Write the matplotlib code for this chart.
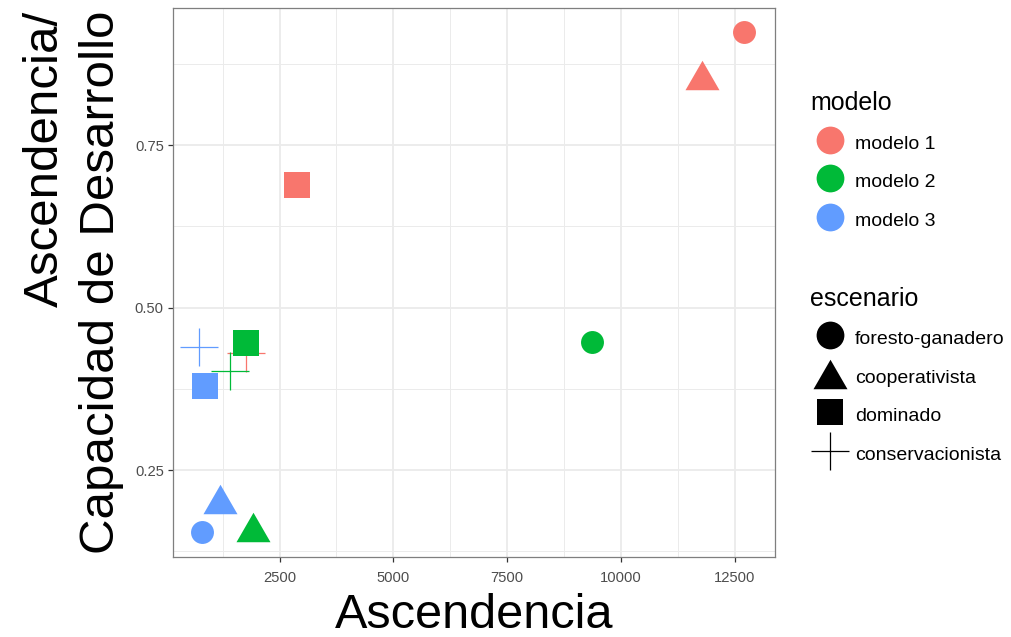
import matplotlib
matplotlib.use("Agg")
import matplotlib.pyplot as plt
from matplotlib.lines import Line2D
from matplotlib.path import Path

plt.rcParams['font.family'] = ['Liberation Sans', 'DejaVu Sans']

# datos
modelos = ['modelo 1', 'modelo 2', 'modelo 3']
escenarios = ['foresto-ganadero', 'cooperativista', 'dominado', 'conservacionista']
colores = {'modelo 1': '#F8766D', 'modelo 2': '#00BA38', 'modelo 3': '#619CFF'}

# ascendencia por modelo (orden de escenarios)
asc_m1 = [12705, 11776, 2875, 1760]
asc_m2 = [9358, 1908, 1760, 1409]
asc_m3 = [793, 1189, 859, 727]
# ascendencia / capacidad de desarrollo
ratio_m1 = [0.924, 0.858, 0.689, 0.430]
ratio_m2 = [0.447, 0.163, 0.445, 0.402]
ratio_m3 = [0.154, 0.205, 0.379, 0.439]

asc = {'modelo 1': asc_m1, 'modelo 2': asc_m2, 'modelo 3': asc_m3}
ratio = {'modelo 1': ratio_m1, 'modelo 2': ratio_m2, 'modelo 3': ratio_m3}

tri = Path([(-1, -0.866), (1, -0.866), (0, 0.866), (-1, -0.866)],
           [Path.MOVETO, Path.LINETO, Path.LINETO, Path.CLOSEPOLY])
formas = {'foresto-ganadero': ('o', 16.5), 'cooperativista': (tri, 24.5),
          'dominado': ('s', 18.5), 'conservacionista': ('+', 27)}

fig = plt.figure(figsize=(10.11, 6.37), dpi=100)
ax = fig.add_axes([0.1711, 0.1256, 0.5955, 0.8618])

for m in modelos:
    for i, e in enumerate(escenarios):
        mk, ms = formas[e]
        if mk == '+':
            ax.plot(asc[m][i], ratio[m][i], marker='+', ms=ms, mew=0.9,
                    color=colores[m], ls='none', zorder=3)
        else:
            ax.plot(asc[m][i], ratio[m][i], marker=mk, ms=ms, mew=0,
                    color=colores[m], ls='none', zorder=3)

ax.set_xlim(156, 13389)
ax.set_ylim(0.1162, 0.9608)

ax.set_xticks([2500, 5000, 7500, 10000, 12500])
ax.set_xticks([1250, 3750, 6250, 8750, 11250], minor=True)
ax.set_yticks([0.25, 0.50, 0.75])
ax.set_yticks([0.125, 0.375, 0.625, 0.875], minor=True)
ax.set_yticklabels(['0.25', '0.50', '0.75'])
ax.grid(which='major', color='#EBEBEB', lw=1.3, zorder=0)
ax.grid(which='minor', color='#EBEBEB', lw=0.7, zorder=0)
ax.set_axisbelow(True)
ax.tick_params(which='major', length=3.6, width=0.9, color='#333333',
               labelsize=10.6, labelcolor='#4D4D4D')
ax.tick_params(axis='x', which='major', pad=6.5)
ax.tick_params(axis='y', which='major', pad=3)
ax.tick_params(which='minor', length=0)
for s in ax.spines.values():
    s.set_color('#7F7F7F')
    s.set_linewidth(0.9)

ax.set_xlabel('Ascendencia', fontsize=35, labelpad=6)
ax.set_ylabel('Ascendencia/\nCapacidad de Desarrollo', fontsize=35.5,
              multialignment='right', linespacing=1.32, labelpad=8)

# leyendas
h_mod = [Line2D([], [], marker='o', ms=20, mew=0, color=colores[m], ls='none')
         for m in modelos]
leg1 = fig.legend(h_mod, modelos, title='modelo', loc='upper left',
                  bbox_to_anchor=(0.7915, 0.872), frameon=False, fontsize=14,
                  title_fontsize=18, alignment='left', labelspacing=0.8,
                  handleheight=1.44, handlelength=2.06, handletextpad=0.26,
                  borderpad=0)

h_esc = [Line2D([], [], marker='o', ms=20, mew=0, color='black', ls='none'),
         Line2D([], [], marker=tri, ms=24.5, mew=0, color='black', ls='none'),
         Line2D([], [], marker='s', ms=19, mew=0, color='black', ls='none'),
         Line2D([], [], marker='+', ms=27, mew=0.9, color='black', ls='none')]
leg2 = fig.legend(h_esc, escenarios, title='escenario', loc='upper left',
                  bbox_to_anchor=(0.7915, 0.565), frameon=False, fontsize=14,
                  title_fontsize=18, alignment='left', labelspacing=0.8,
                  handleheight=1.44, handlelength=2.06, handletextpad=0.26,
                  borderpad=0)

fig.savefig('out.png', dpi=100)
